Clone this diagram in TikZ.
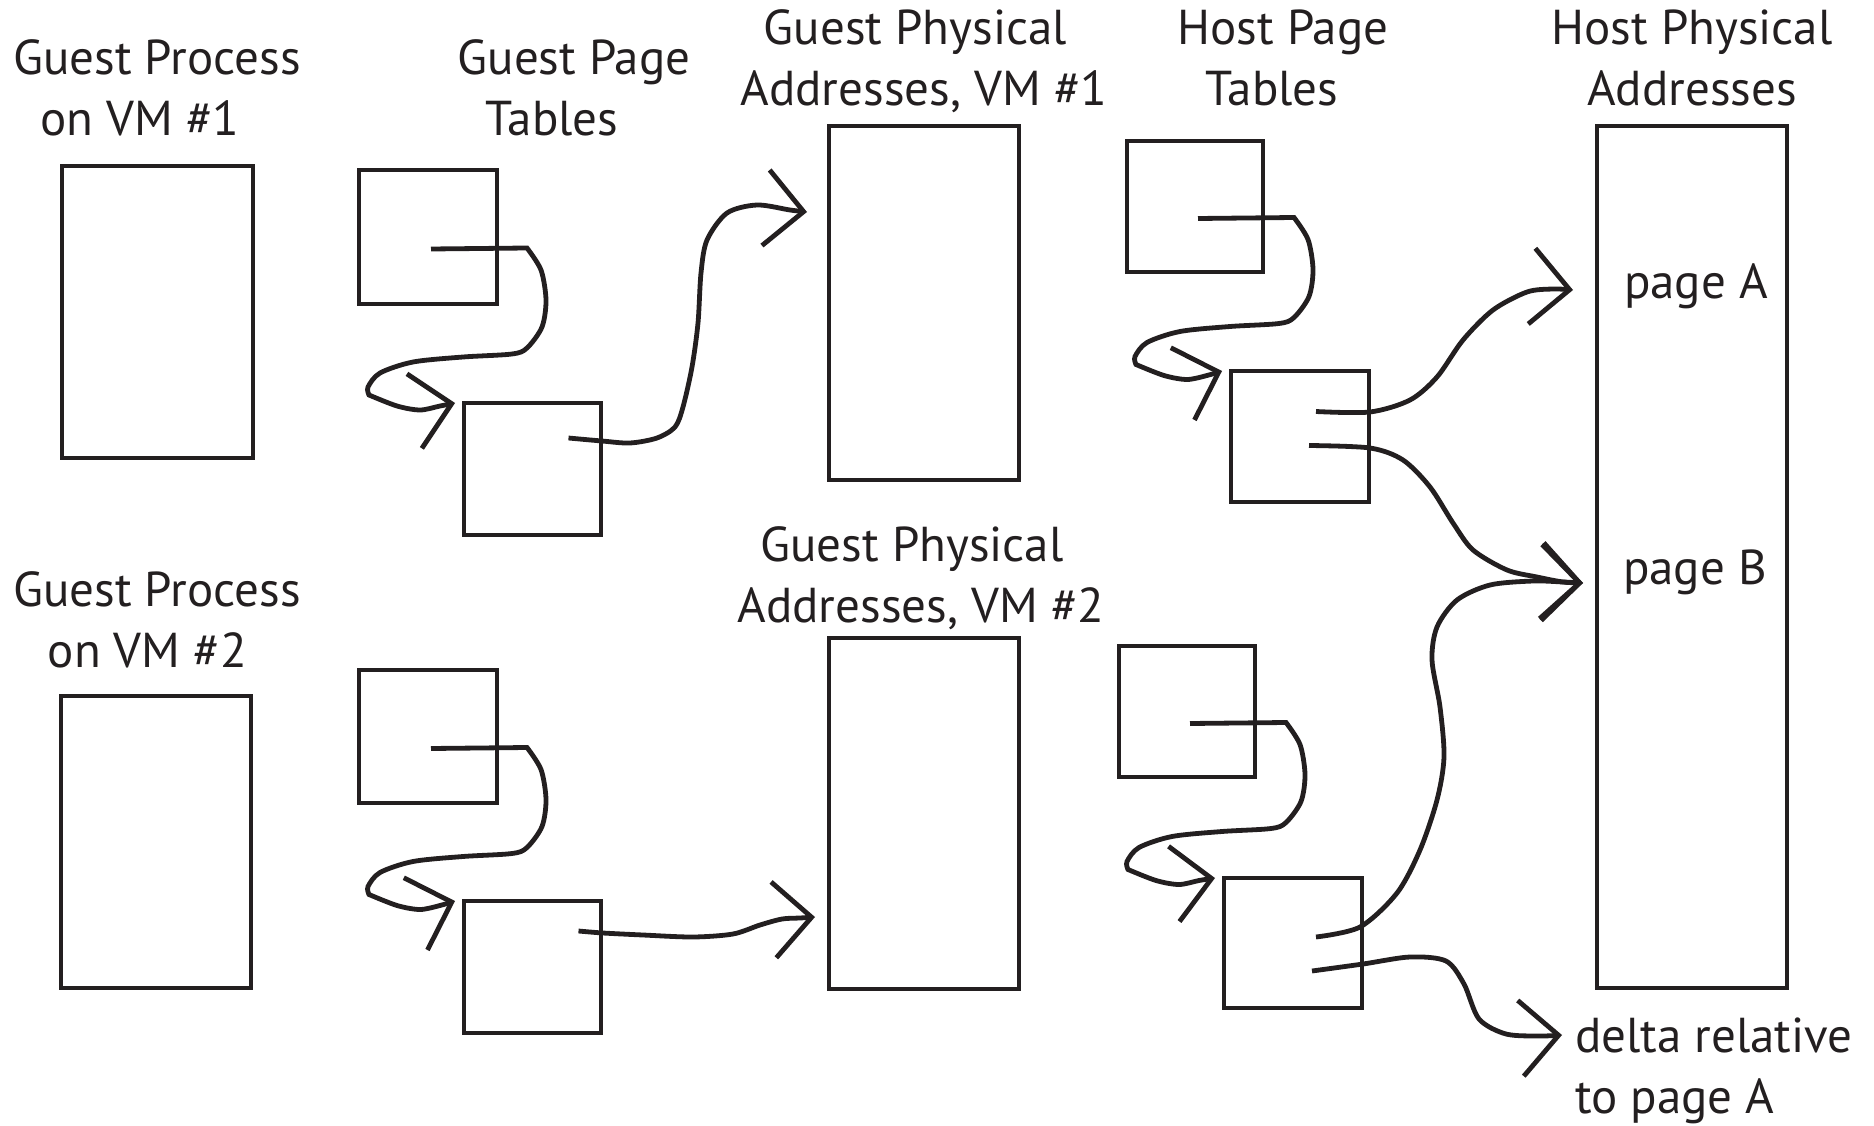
\documentclass[tikz,border=0pt]{standalone}
\usepackage{fontspec}
\setmainfont{PT Sans}
\usetikzlibrary{arrows.meta}
\definecolor{ink}{HTML}{231F20}

% rectangle node given by its corner points (x1,y1) and (x2,y2)
\newcommand{\pagebox}[5]{%
  \node[pbox, minimum width={(#4-#2)*1pt}, minimum height={(#5-#3)*1pt}]
    (#1) at ({(#2+#4)/2},{(#3+#5)/2}) {};}

% hand-drawn loop from one page-table level to the next
\newcommand{\tableloop}[2]{%
  \begin{scope}[shift={(#1-out)}]
    \draw[conn] (#1-out) -- (96,-1)
      -- plot[smooth] coordinates {(96,-1) (110,21) (115,51) (111,78) (96,99)
           (81,105) (32,108) (-18,113) (-51,124) (-63,138) (-62,146)}
      -- plot[smooth] coordinates {(-62,146) (-34,157) (-11,161) (9,157) (#2-in)};
  \end{scope}}

\begin{document}
\begin{tikzpicture}[x=1pt,y=-1pt,
  pbox/.style={draw=ink, line width=4.8pt, inner sep=0pt, outer sep=0pt},
  conn/.style={draw=ink, line width=4.8pt,
    -{Straight Barb[length=38pt,width=76pt,sharp]}},
  lbl/.style={text=ink, font=\fontsize{49}{61}\selectfont, align=center,
    anchor=base, inner sep=0pt},
]
\useasboundingbox (0,0) rectangle (1874,1126);

% address spaces and page tables
\pagebox{gp1}{62}{166}{253}{458}
\pagebox{gpt1a}{359}{170}{497}{304}
\pagebox{gpt1b}{464}{403}{601}{535}
\pagebox{gpa1}{829}{126}{1019}{480}
\pagebox{hpt1a}{1127}{141}{1263}{272}
\pagebox{hpt1b}{1231}{371}{1369}{502}
\pagebox{hpa}{1597}{126}{1787}{988}
\pagebox{gp2}{61}{696}{251}{988}
\pagebox{gpt2a}{359}{670}{497}{803}
\pagebox{gpt2b}{464}{901}{601}{1033}
\pagebox{gpa2}{829}{638}{1019}{989}
\pagebox{hpt2a}{1119}{646}{1255}{777}
\pagebox{hpt2b}{1224}{878}{1362}{1008}

% labels (anchored at the baseline of their last line)
\node[lbl] (gp1-lbl) at (157,136) {Guest Process\\\hspace*{-34pt}on VM \#1};
\node[lbl] (gpt-lbl) at (574,136) {Guest Page\\\hspace*{-44pt}Tables};
\node[lbl] (gpa1-lbl) at (924,106) {\hspace*{-17pt}Guest Physical\\Addresses, VM \#1};
\node[lbl] (hpt-lbl) at (1283,106) {Host Page\\\hspace*{-22pt}Tables};
\node[lbl] (hpa-lbl) at (1692,106) {Host Physical\\Addresses};
\node[lbl] (gp2-lbl) at (157,667) {Guest Process\\\hspace*{-19pt}on VM \#2};
\node[lbl] (gpa2-lbl) at (921,622) {\hspace*{-18pt}Guest Physical\\Addresses, VM \#2};
\node[lbl] (pageA) at (1696,298) {page A};
\node[lbl] (pageB) at (1695,584) {page B};
\node[lbl, align=left, anchor=base west] (delta) at (1575,1113) {delta relative\\to page A};

% connector ends
\coordinate (gpt1a-out) at ([shift={(3,12)}]gpt1a.center);
\coordinate (gpt1b-in)  at ([xshift=-9]gpt1b.north west);
\coordinate (gpt2a-out) at ([shift={(3,12)}]gpt2a.center);
\coordinate (gpt2b-in)  at ([xshift=-9]gpt2b.north west);
\coordinate (hpt1a-out) at ([shift={(3,12)}]hpt1a.center);
\coordinate (hpt1b-in)  at ([xshift=-9]hpt1b.north west);
\coordinate (hpt2a-out) at ([shift={(3,12)}]hpt2a.center);
\coordinate (hpt2b-in)  at ([xshift=-9]hpt2b.north west);

\coordinate (gpt1b-out) at ([shift={(36,-31)}]gpt1b.center);
\coordinate (gpt2b-out) at ([shift={(46,-36)}]gpt2b.center);
\coordinate (gpa1-in)   at ([shift={(-22,86)}]gpa1.north west);
\coordinate (gpa2-in)   at ([shift={(-14,279)}]gpa2.north west);
\coordinate (hpt1b-outA) at ([shift={(16,-25)}]hpt1b.center);
\coordinate (hpt1b-outB) at ([shift={(9,9)}]hpt1b.center);
\coordinate (hpt2b-outB) at ([shift={(23,-6)}]hpt2b.center);
\coordinate (hpt2b-outD) at ([shift={(19,28)}]hpt2b.center);
\coordinate (pageA-in)  at ([shift={(-24,164)}]hpa.north west);
\coordinate (pageB-in)  at ([shift={(-14,457)}]hpa.north west);
\coordinate (delta-in)  at ([shift={(-13,-78)}]delta.base west);

% guest and host page-table walks
\tableloop{gpt1a}{gpt1b}
\tableloop{gpt2a}{gpt2b}
\tableloop{hpt1a}{hpt1b}
\tableloop{hpt2a}{hpt2b}

% guest page tables to guest physical addresses
\draw[conn] plot[smooth] coordinates {(gpt1b-out) (602,441) (630,443) (657,438)
  (675,427) (683,407) (692,367) (698,323) (701,273) (707,240) (727,213)
  (757,205) (790,210) (gpa1-in)};
\draw[conn] plot[smooth] coordinates {(gpt2b-out) (603,933) (643,935) (693,937)
  (733,934) (760,925) (782,919) (800,918) (gpa2-in)};

% host page tables to host physical pages
\draw[conn] plot[smooth] coordinates {(hpt1b-outA) (1370,412) (1410,400)
  (1437,377) (1463,340) (1493,310) (1527,292) (1553,289) (pageA-in)};
\draw[conn] plot[smooth] coordinates {(hpt1b-outB) (1370,448) (1403,460)
  (1430,487) (1453,523) (1473,550) (1507,570) (1537,577) (1563,582) (pageB-in)};
\draw[conn] plot[smooth] coordinates {(hpt2b-outB) (1360,927) (1397,893)
  (1420,850) (1437,800) (1444,757) (1440,707) (1432,660) (1437,627)
  (1457,600) (1490,585) (1533,581) (1563,582) (pageB-in)};
\draw[conn] plot[smooth] coordinates {(hpt2b-outD) (1363,964) (1410,957)
  (1446,961) (1464,984) (1479,1019) (1506,1034) (1540,1036) (delta-in)};
\end{tikzpicture}
\end{document}
